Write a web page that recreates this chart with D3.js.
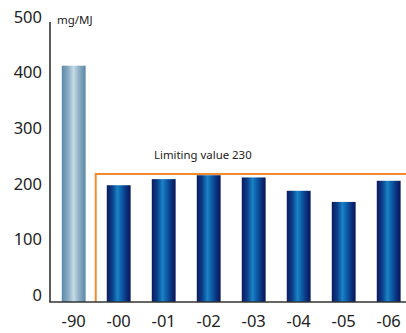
<!DOCTYPE html>
<html>
<head>
<meta charset="utf-8">
<script src="https://cdn.jsdelivr.net/npm/d3@7"></script>
<style>
  html, body { margin: 0; padding: 0; background: #fff; }
  svg { display: block; }
  text { font-family: "Noto Sans", "Open Sans", sans-serif; fill: #222; }
</style>
</head>
<body>
<svg id="chart" width="406" height="333"></svg>
<script>
// Emission per year, mg/MJ
const years = ["-90", "-00", "-01", "-02", "-03", "-04", "-05", "-06"];
const values = [425, 210, 221, 228, 224, 200, 180, 218];
const yTicks = [0, 100, 200, 300, 400, 500];
const limitValue = 230;
const unitLabel = "mg/MJ";
const limitLabel = "Limiting value 230";

const svg = d3.select("#chart");
const W = 406, H = 333;

const x = d3.scaleBand()
  .domain(years)
  .range([51.2, 411.2])
  .paddingInner(0.47)
  .paddingOuter(0.235);

const y = d3.scaleLinear().domain([0, 500]).range([302, 24]);

// Gradients
const defs = svg.append("defs");
const gDark = defs.append("linearGradient").attr("id", "gDark")
  .attr("x1", "0%").attr("x2", "100%").attr("y1", "0%").attr("y2", "0%");
[["0%", "#0c1a5e"], ["22%", "#0b3c86"], ["45%", "#1a82c6"], ["62%", "#0d5ea8"], ["85%", "#0a2c78"], ["100%", "#0a1656"]]
  .forEach(([o, c]) => gDark.append("stop").attr("offset", o).attr("stop-color", c));

const gLight = defs.append("linearGradient").attr("id", "gLight")
  .attr("x1", "0%").attr("x2", "100%").attr("y1", "0%").attr("y2", "0%");
[["0%", "#5d88a8"], ["25%", "#85a9c2"], ["50%", "#c6dbe6"], ["70%", "#93b3c8"], ["100%", "#5a86a6"]]
  .forEach(([o, c]) => gLight.append("stop").attr("offset", o).attr("stop-color", c));

// Limit box
const limitLeft = x(years[0]) + x.bandwidth() + (x(years[1]) - x(years[0]) - x.bandwidth()) / 2 - 0.5;
svg.append("path")
  .attr("d", `M${limitLeft},${y(0)} V${y(limitValue)} H${W}`)
  .attr("fill", "none")
  .attr("stroke", "#f28a2e")
  .attr("stroke-width", 2);

// Bars
svg.selectAll("rect.bar")
  .data(years.map((k, i) => ({ k, v: values[i], i })))
  .join("rect")
  .attr("class", "bar")
  .attr("x", d => x(d.k))
  .attr("width", x.bandwidth())
  .attr("y", d => y(d.v))
  .attr("height", d => y(0) - y(d.v))
  .attr("fill", d => d.i === 0 ? "url(#gLight)" : "url(#gDark)");

// Axes lines
svg.append("line")
  .attr("x1", 50).attr("x2", 50)
  .attr("y1", 22).attr("y2", y(0))
  .attr("stroke", "#333").attr("stroke-width", 1.6);
svg.append("line")
  .attr("x1", 49.2).attr("x2", W)
  .attr("y1", y(0)).attr("y2", y(0))
  .attr("stroke", "#333").attr("stroke-width", 1.6);

// Y tick labels
svg.selectAll("text.ytick")
  .data(yTicks)
  .join("text")
  .attr("class", "ytick")
  .attr("x", 42)
  .attr("y", d => y(d) - 7)
  .attr("dy", "0.35em")
  .attr("text-anchor", "end")
  .attr("font-size", 16.5)
  .text(d => d);

// X labels
svg.selectAll("text.xtick")
  .data(years)
  .join("text")
  .attr("class", "xtick")
  .attr("x", d => x(d) + x.bandwidth() / 2)
  .attr("y", 327)
  .attr("text-anchor", "middle")
  .attr("font-size", 16.5)
  .text(d => d);

// Unit and limit labels
svg.append("text")
  .attr("x", 57).attr("y", 24)
  .attr("font-size", 11.5)
  .text(unitLabel);

svg.append("text")
  .attr("x", 154).attr("y", 159)
  .attr("font-size", 11.4)
  .text(limitLabel);
</script>
</body>
</html>
